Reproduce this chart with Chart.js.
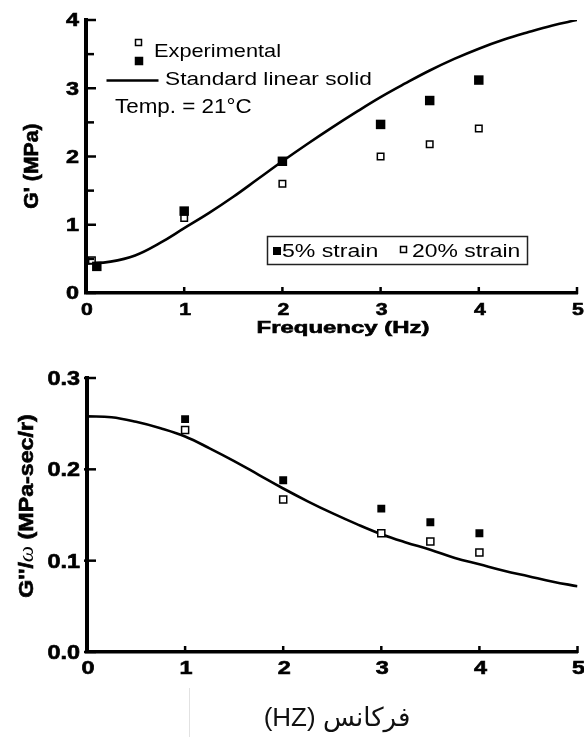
<!DOCTYPE html>
<html>
<head>
<meta charset="utf-8">
<script src="https://cdn.jsdelivr.net/npm/chart.js@4.4.1/dist/chart.umd.min.js"></script>
<style>
  body { margin: 0; background: #fff; }
  #wrap { position: relative; width: 584px; height: 737px; overflow: hidden; background: #fff; }
  canvas { position: absolute; left: 0; }
  #storage { top: 0; }
  #loss { top: 365px; }
  #scanLine { position: absolute; left: 189px; top: 688px; width: 1px; height: 49px; background: #e2e2e2; }
  #freqFa { position: absolute; left: 227px; top: 702px; width: 220px; line-height: 32px; text-align: center;
            font: 26px "Liberation Sans", "DejaVu Sans", sans-serif; color: #111; }
</style>
</head>
<body>
<div id="wrap">
  <canvas id="storage" width="584" height="365"></canvas>
  <canvas id="loss" width="584" height="372"></canvas>
  <div id="scanLine"></div>
  <div id="freqFa" dir="rtl">فرکانس (HZ)</div>
</div>
<script>
// shared x ticks
const freqTicks = ['0', '1', '2', '3', '4', '5'];

// upper panel: G' (MPa)
const storageTicks = ['0', '1', '2', '3', '4'];
const storageFreq5 = [0.11, 1, 2, 3, 3.5, 4];
const storage5 = [0.39, 1.2, 1.93, 2.47, 2.82, 3.12];
const storageFreq20 = [0.06, 1, 2, 3, 3.5, 4];
const storage20 = [0.48, 1.1, 1.6, 2.0, 2.18, 2.41];
const modelFreq = [0, 0.25, 0.5, 0.75, 1, 1.25, 1.5, 1.75, 2, 2.25, 2.5, 2.75, 3, 3.25, 3.5, 3.75, 4, 4.25, 4.5, 4.75, 5];
const storageModel = [0.43, 0.46, 0.55, 0.73, 0.95, 1.17, 1.41, 1.67, 1.93, 2.18, 2.42, 2.65, 2.87, 3.07, 3.26, 3.43, 3.58, 3.71, 3.82, 3.92, 4.0];

// lower panel: G''/w
const lossTicks = ['0.0', '0.1', '0.2', '0.3'];
const lossFreq = [1, 2, 3, 3.5, 4];
const loss5 = [0.255, 0.188, 0.157, 0.142, 0.130];
const loss20 = [0.243, 0.167, 0.130, 0.121, 0.109];
const lossModel = [0.258, 0.257, 0.252, 0.245, 0.236, 0.223, 0.209, 0.194, 0.179, 0.165, 0.152, 0.14, 0.129, 0.12, 0.112, 0.103, 0.096, 0.089, 0.083, 0.077, 0.072];

const SANS = '"Liberation Sans", Arial, sans-serif';

const pts = (xs, ys) => xs.map((x, i) => ({ x: x, y: ys[i] }));

// text drawn in runs, each run stretched horizontally by sx
function runs(ctx, parts, x, y, align, angle, baseline) {
    ctx.save();
    ctx.fillStyle = '#000';
    ctx.strokeStyle = '#000';
    ctx.textBaseline = baseline || 'alphabetic';
    ctx.textAlign = 'left';
    let total = 0;
    parts.forEach(p => {
        ctx.font = p.font;
        p.w = ctx.measureText(p.text).width * (p.sx || 1);
        total += p.w;
    });
    ctx.translate(x, y);
    if (angle) ctx.rotate(angle);
    let pos = align === 'center' ? -total / 2 : align === 'right' ? -total : 0;
    parts.forEach(p => {
        ctx.save();
        ctx.font = p.font;
        ctx.translate(pos, 0);
        ctx.scale(p.sx || 1, 1);
        ctx.fillText(p.text, 0, 0);
        if (p.heavy) {
            // the scanned labels are a touch heavier than Liberation bold
            ctx.lineWidth = p.heavy;
            ctx.strokeText(p.text, 0, 0);
        }
        ctx.restore();
        pos += p.w;
    });
    ctx.restore();
}

function line(ctx, x1, y1, x2, y2) {
    ctx.beginPath();
    ctx.moveTo(x1, y1);
    ctx.lineTo(x2, y2);
    ctx.stroke();
}

function square(ctx, cx, cy, side, filled) {
    ctx.save();
    if (filled) {
        ctx.fillStyle = '#000';
        ctx.fillRect(cx - side / 2, cy - side / 2, side, side);
    } else {
        ctx.strokeStyle = '#000';
        ctx.lineWidth = 1.5;
        ctx.strokeRect(cx - side / 2 + 0.75, cy - side / 2 + 0.75, side - 1.5, side - 1.5);
    }
    ctx.restore();
}

// inward tick marks + tick labels
function axisDecor(cfg) {
    return {
        id: 'axisDecor',
        afterDraw(chart) {
            const { ctx, chartArea: a, scales: { x, y } } = chart;
            ctx.save();
            ctx.strokeStyle = '#000';
            ctx.lineWidth = 2.5;
            x.ticks.forEach(t => {
                const px = x.getPixelForValue(t.value);
                line(ctx, px, a.bottom - cfg.xIn, px, a.bottom + 1);
                runs(ctx, [{ text: t.label, font: cfg.xFont, sx: cfg.xSx, heavy: 0.6 }],
                    px + 1, a.bottom + cfg.xDy, 'center', 0, 'middle');
            });
            y.ticks.forEach(t => {
                const py = y.getPixelForValue(t.value);
                const major = t.label !== '';
                line(ctx, a.left - cfg.yOut, py, a.left + (major ? cfg.yIn : cfg.yMinor), py);
                if (major) {
                    runs(ctx, [{ text: t.label, font: cfg.yFont, sx: cfg.ySx, heavy: 0.6 }],
                        cfg.yRight, py + cfg.yDy, 'right', 0, 'middle');
                }
            });
            ctx.restore();
        }
    };
}

const storageNotes = {
    id: 'storageNotes',
    afterDraw(chart) {
        const ctx = chart.ctx;
        const reg = `18.6px ${SANS}`;
        // y title
        runs(ctx, [{ text: "G' (MPa)", font: `bold 19.5px ${SANS}`, sx: 1.09, heavy: 0.6 }], 38, 166, 'center', -Math.PI / 2);
        // x title
        runs(ctx, [{ text: 'Frequency (Hz)', font: `bold 16.5px ${SANS}`, sx: 1.45, heavy: 0.6 }], 343, 333, 'center');

        // key at top left
        square(ctx, 138.5, 42.5, 7.5, false);
        square(ctx, 139, 61, 8.5, true);
        runs(ctx, [{ text: 'Experimental', font: reg, sx: 1.17 }], 154, 56.7, 'left');
        ctx.save();
        ctx.strokeStyle = '#000';
        ctx.lineWidth = 2.6;
        line(ctx, 106.5, 80.5, 158.5, 80.5);
        ctx.restore();
        runs(ctx, [{ text: 'Standard linear solid', font: reg, sx: 1.22 }], 165, 85, 'left');
        runs(ctx, [{ text: 'Temp. = 21°C', font: `19.5px ${SANS}`, sx: 1.15 }], 115, 113.3, 'left');

        // strain key box
        ctx.save();
        ctx.strokeStyle = '#222';
        ctx.lineWidth = 1.5;
        ctx.strokeRect(267.5, 236.5, 260, 28);
        ctx.restore();
        square(ctx, 277, 251, 8, true);
        runs(ctx, [{ text: '5% strain', font: `17.5px ${SANS}`, sx: 1.32 }], 282, 257, 'left');
        square(ctx, 403.5, 249.5, 7.5, false);
        runs(ctx, [{ text: '20% strain', font: `17.5px ${SANS}`, sx: 1.31 }], 412, 257, 'left');
    }
};

const lossNotes = {
    id: 'lossNotes',
    afterDraw(chart) {
        const b = `bold 19.5px ${SANS}`;
        runs(chart.ctx, [
            { text: "G''/", font: b, sx: 1.19, heavy: 0.6 },
            { text: 'ω', font: `italic 21px "Liberation Serif", serif`, sx: 1.1 },
            { text: ' (MPa-sec/r)', font: b, sx: 1.19, heavy: 0.6 }
        ], 33, 141, 'center', -Math.PI / 2);
    }
};

function baseScales(yMin, yMax, yStep, yLabel, yWidth, xHeight) {
    return {
        x: {
            type: 'linear', min: 0, max: 5,
            ticks: { stepSize: 1, display: false, callback: v => freqTicks[Math.round(v)] },
            grid: { display: false, drawTicks: false },
            border: { color: '#000', width: 3.5 },
            afterFit: s => { s.height = xHeight; }
        },
        y: {
            type: 'linear', min: yMin, max: yMax,
            ticks: { stepSize: yStep, display: false, callback: yLabel },
            grid: { display: false, drawTicks: false },
            border: { color: '#000', width: 4 },
            afterFit: s => { s.width = yWidth; }
        }
    };
}

function datasets(f5, v5, f20, v20, model, filledR, openR) {
    return [
        {
            data: pts(f5, v5), pointStyle: 'rect', pointRadius: filledR,
            backgroundColor: '#000', borderColor: '#000', borderWidth: 0
        },
        {
            data: pts(f20, v20), pointStyle: 'rect', pointRadius: openR,
            backgroundColor: '#fff', borderColor: '#000', borderWidth: 1.5
        },
        {
            data: pts(modelFreq, model), showLine: true, pointRadius: 0,
            borderColor: '#000', borderWidth: 2.6, fill: false,
            tension: 0.4
        }
    ];
}

const common = {
    responsive: false,
    animation: false,
    events: [],
    plugins: { legend: { display: false }, tooltip: { enabled: false } }
};

new Chart(document.getElementById('storage'), {
    type: 'scatter',
    data: { datasets: datasets(storageFreq5, storage5, storageFreq20, storage20, storageModel, 6.7, 4.6) },
    options: {
        ...common,
        layout: { padding: { left: 0, right: 7, top: 20, bottom: 0 } },
        scales: baseScales(0, 4, 0.5, v => Number.isInteger(v) ? storageTicks[v] : '', 86, 72)
    },
    plugins: [
        axisDecor({ xIn: 6, xDy: 17, xFont: `bold 17px ${SANS}`, xSx: 1.25,
                    yOut: 0, yIn: 10, yMinor: 8, yRight: 79, yDy: 1.5,
                    yFont: `bold 18px ${SANS}`, ySx: 1.3 }),
        storageNotes
    ]
});

new Chart(document.getElementById('loss'), {
    type: 'scatter',
    data: { datasets: datasets(lossFreq, loss5, lossFreq, loss20, lossModel, 5.6, 5) },
    options: {
        ...common,
        layout: { padding: { left: 0, right: 6, top: 13, bottom: 0 } },
        scales: baseScales(0, 0.3, 0.1, v => lossTicks[Math.round(v * 10)], 87, 85)
    },
    plugins: [
        axisDecor({ xIn: 6, xDy: 17, xFont: `bold 18px ${SANS}`, xSx: 1.3,
                    yOut: 3, yIn: 9, yMinor: 9, yRight: 80, yDy: 1.5,
                    yFont: `bold 19.5px ${SANS}`, ySx: 1.2 }),
        lossNotes
    ]
});
</script>
</body>
</html>
